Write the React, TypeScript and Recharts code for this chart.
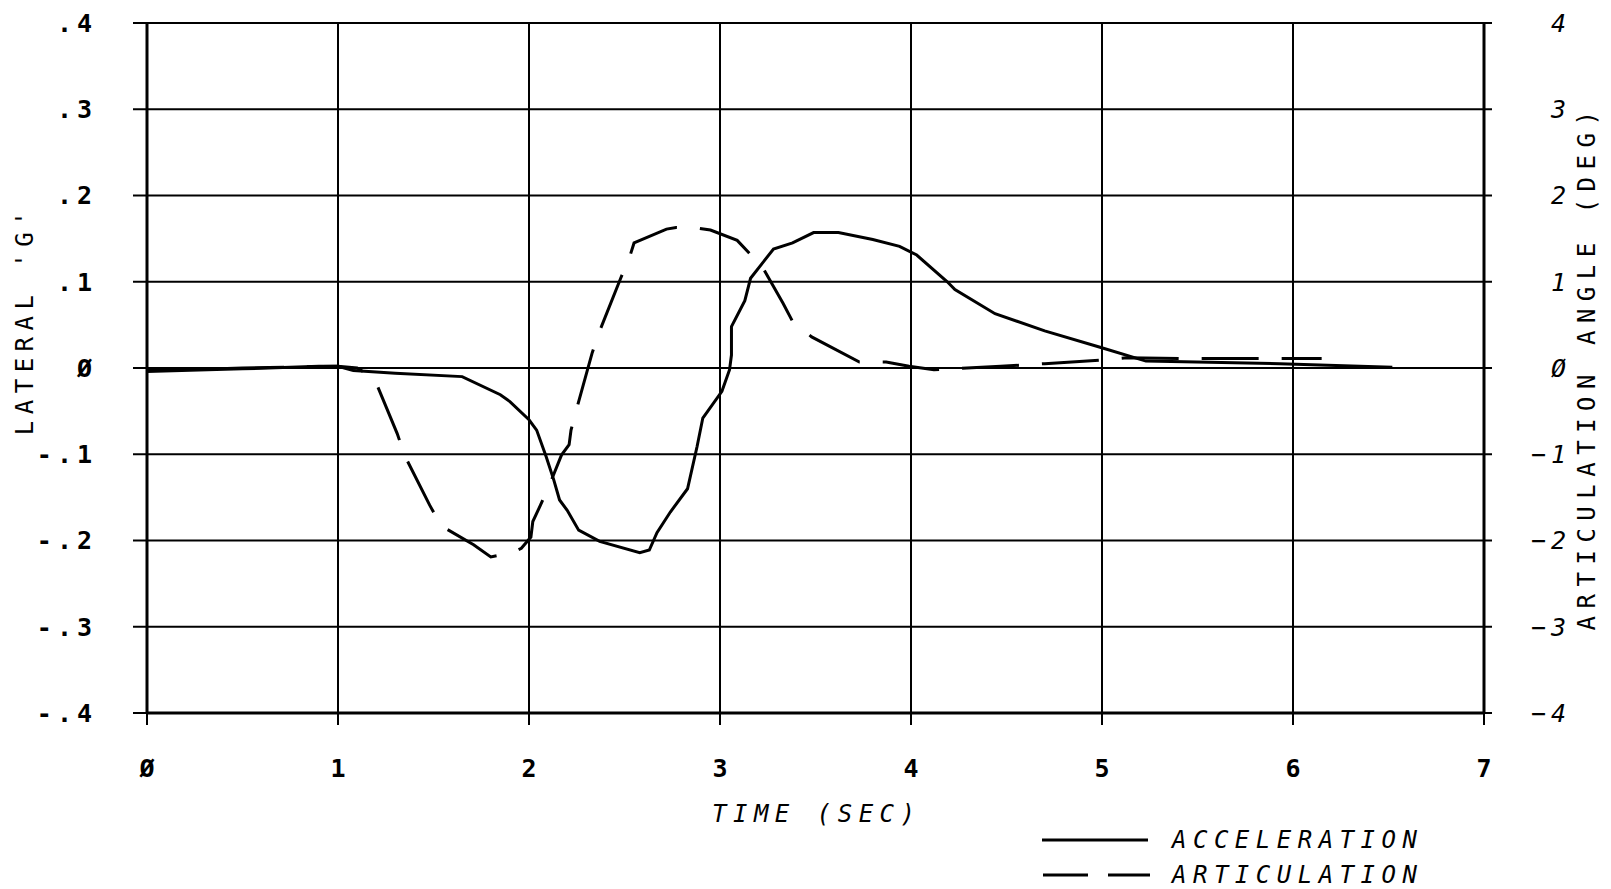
import { LineChart, Line, XAxis, YAxis, CartesianGrid } from "recharts";

// time axis
const timeTicks = [0, 1, 2, 3, 4, 5, 6, 7];
const timeTickLabels = ["Ø", "1", "2", "3", "4", "5", "6", "7"];

// left axis: lateral acceleration (g)
const gTicks = [-0.4, -0.3, -0.2, -0.1, 0, 0.1, 0.2, 0.3, 0.4];
const gTickLabels = ["-.4", "-.3", "-.2", "-.1", "Ø", ".1", ".2", ".3", ".4"];

// right axis: articulation angle (deg)
const degTicks = [-4, -3, -2, -1, 0, 1, 2, 3, 4];
const degTickLabels = ["−4", "−3", "−2", "−1", "Ø", "1", "2", "3", "4"];

// acceleration trace
const accelTime = [
  0, 0.5, 0.9, 1.0, 1.08, 1.3, 1.65, 1.85, 1.9, 2.0, 2.04, 2.09, 2.13, 2.16,
  2.2, 2.26, 2.37, 2.58, 2.63, 2.67, 2.74, 2.83, 2.88, 2.91, 3.01, 3.05, 3.06,
  3.06, 3.13, 3.16, 3.28, 3.38, 3.49, 3.62, 3.8, 3.94, 4.03, 4.19, 4.23, 4.44,
  4.7, 4.99, 5.23, 5.93, 6.52,
];
const accelG = [
  -0.004, -0.001, 0.002, 0.002, -0.003, -0.006, -0.01, -0.031, -0.039, -0.06,
  -0.072, -0.103, -0.13, -0.153, -0.165, -0.188, -0.201, -0.214, -0.211,
  -0.191, -0.167, -0.14, -0.091, -0.058, -0.027, -0.002, 0.015, 0.048, 0.078,
  0.104, 0.138, 0.145, 0.157, 0.157, 0.149, 0.141, 0.131, 0.1, 0.091, 0.063,
  0.043, 0.024, 0.008, 0.005, 0.001,
];

// articulation trace
const artTime = [
  0, 0.5, 1.0, 1.1, 1.19, 1.31, 1.35, 1.48, 1.54, 1.71, 1.8, 1.91, 1.96, 2.01,
  2.02, 2.06, 2.11, 2.17, 2.21, 2.22, 2.25, 2.33, 2.37, 2.48, 2.53, 2.55, 2.72,
  2.77, 2.89, 2.95, 3.09, 3.15, 3.23, 3.33, 3.38, 3.48, 3.73, 3.87, 3.99, 4.12,
  4.47, 4.7, 4.99, 5.13, 5.43, 5.83, 6.15,
];
const artDeg = [
  -0.03, 0, 0.02, 0, -0.12, -0.76, -1.02, -1.59, -1.83, -2.05, -2.19, -2.14,
  -2.09, -1.96, -1.78, -1.59, -1.34, -1.01, -0.89, -0.72, -0.47, 0.17, 0.43,
  1.04, 1.31, 1.45, 1.61, 1.63, 1.62, 1.6, 1.48, 1.34, 1.14, 0.75, 0.54, 0.36,
  0.07, 0.07, 0.02, -0.02, 0.02, 0.05, 0.09, 0.12, 0.11, 0.11, 0.11,
];

const accelData = accelTime.map((t, i) => ({ t, g: accelG[i] }));
const artData = artTime.map((t, i) => ({ t, deg: artDeg[i] }));

const FONT = "'DejaVu Sans Mono', monospace";
const LS = 5;

const labelOf = (ticks: number[], labels: string[], v: number) => {
  const i = ticks.findIndex((t) => Math.abs(t - v) < 1e-9);
  return i >= 0 ? labels[i] : "";
};

const LeftTick = (p: any) => (
  <text
    x={p.x + LS}
    y={p.y}
    dy="0.355em"
    textAnchor="end"
    fontFamily={FONT}
    fontSize={25}
    fontWeight="bold"
    letterSpacing={LS}
    fill="#000"
  >
    {labelOf(gTicks, gTickLabels, p.payload.value)}
  </text>
);

const RightTick = (p: any) => (
  <text
    x={p.x + LS}
    y={p.y}
    dy="0.355em"
    textAnchor="end"
    fontFamily={FONT}
    fontSize={25}
    fontStyle="italic"
    letterSpacing={LS}
    fill="#000"
  >
    {labelOf(degTicks, degTickLabels, p.payload.value)}
  </text>
);

const BottomTick = (p: any) => (
  <text
    x={p.x}
    y={p.y}
    dy="0.71em"
    textAnchor="middle"
    fontFamily={FONT}
    fontSize={25}
    fontWeight="bold"
    fill="#000"
  >
    {labelOf(timeTicks, timeTickLabels, p.payload.value)}
  </text>
);

const textStyle = {
  fontFamily: FONT,
  fontSize: 24,
  letterSpacing: 6.5,
  fill: "#000",
};

const App = () => {
  return (
    <div
      style={{
        position: "absolute",
        left: 0,
        top: 0,
        width: 1611,
        height: 889,
        background: "#fff",
      }}
    >
      <LineChart
        width={1611}
        height={889}
        margin={{ top: 23, right: 0, bottom: 0, left: 0 }}
      >
        <CartesianGrid
          yAxisId="left"
          stroke="#000"
          strokeWidth={2}
          strokeDasharray=""
          horizontalValues={gTicks}
          verticalValues={timeTicks}
        />
        <XAxis
          dataKey="t"
          type="number"
          domain={[0, 7]}
          ticks={timeTicks}
          allowDuplicatedCategory={false}
          height={176}
          tickSize={12}
          tickMargin={34}
          tick={BottomTick}
          axisLine={{ stroke: "#000", strokeWidth: 3 }}
          tickLine={{ stroke: "#000", strokeWidth: 2 }}
        />
        <YAxis
          yAxisId="left"
          orientation="left"
          type="number"
          domain={[-0.4, 0.4]}
          ticks={gTicks}
          width={147}
          tickSize={14}
          tickMargin={41}
          tick={LeftTick}
          axisLine={{ stroke: "#000", strokeWidth: 3 }}
          tickLine={{ stroke: "#000", strokeWidth: 2 }}
        />
        <YAxis
          yAxisId="right"
          orientation="right"
          type="number"
          domain={[-4, 4]}
          ticks={degTicks}
          width={127}
          tickSize={8}
          tickMargin={74}
          tick={RightTick}
          axisLine={{ stroke: "#000", strokeWidth: 3 }}
          tickLine={{ stroke: "#000", strokeWidth: 2 }}
        />
        <Line
          yAxisId="left"
          data={accelData}
          dataKey="g"
          type="linear"
          stroke="#000"
          strokeWidth={3}
          dot={false}
          activeDot={false}
          isAnimationActive={false}
        />
        <Line
          yAxisId="right"
          data={artData}
          dataKey="deg"
          type="linear"
          stroke="#000"
          strokeWidth={3}
          strokeDasharray="57 23"
          dot={false}
          activeDot={false}
          isAnimationActive={false}
        />
      </LineChart>

      <svg
        width={1611}
        height={889}
        style={{ position: "absolute", left: 0, top: 0, pointerEvents: "none" }}
      >
        <text
          {...textStyle}
          transform="translate(33,320) rotate(-90)"
          textAnchor="middle"
        >
          LATERAL 'G'
        </text>
        <text
          {...textStyle}
          letterSpacing={7.5}
          transform="translate(1595,367) rotate(-90)"
          textAnchor="middle"
        >
          ARTICULATION ANGLE (DEG)
        </text>
        <text {...textStyle} x={712} y={822} fontStyle="italic">
          TIME (SEC)
        </text>

        <line x1={1042} y1={840} x2={1148} y2={840} stroke="#000" strokeWidth={3} />
        <text {...textStyle} x={1172} y={848} fontStyle="italic">
          ACCELERATION
        </text>
        <line
          x1={1043}
          y1={875}
          x2={1150}
          y2={875}
          stroke="#000"
          strokeWidth={3}
          strokeDasharray="45 20 45"
        />
        <text {...textStyle} x={1172} y={883} fontStyle="italic">
          ARTICULATION
        </text>
      </svg>
    </div>
  );
};

export default App;
